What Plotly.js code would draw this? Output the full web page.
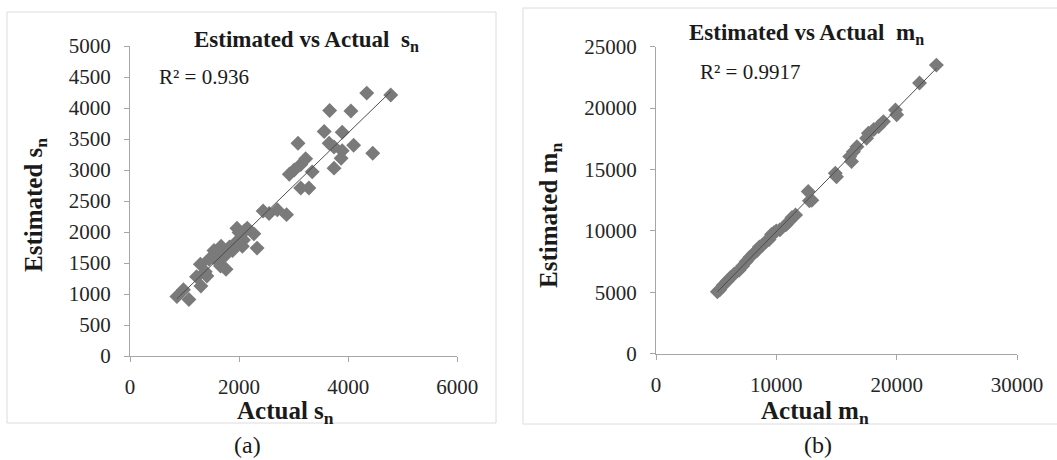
<!DOCTYPE html>
<html>
<head>
<meta charset="utf-8">
<script src="https://cdn.plot.ly/plotly-3.0.1.min.js"></script>
<style>html,body{margin:0;padding:0;background:#fff;}#chart{width:1057px;height:460px;}</style>
</head>
<body>
<div id="chart"></div>
<script>
// ---- Data: panel (a) s_n ----
const sActual = [4780, 4340, 3660, 4050, 3560, 3890, 3080, 3650, 3740, 4100, 4450, 3890, 3870, 3220, 3130, 3010, 2920, 3340, 3740, 3130, 3280,
  2440, 2550, 2700, 2870, 2330, 1960, 2150, 2270, 2080, 1940, 2060, 1830, 1670, 1590, 1290, 1450, 1660, 1730, 1880,
  1220, 1410, 1300, 980, 860, 1080, 1760, 1600, 1820, 1700, 2100, 2000, 1540, 1380];
const sEstimated = [4210, 4240, 3960, 3950, 3620, 3610, 3430, 3430, 3370, 3400, 3270, 3310, 3190, 3180, 3090, 3000, 2930, 2970, 3030, 2710, 2710,
  2340, 2300, 2360, 2280, 1740, 2060, 2060, 1970, 1870, 1830, 1770, 1760, 1770, 1630, 1480, 1560, 1450, 1610, 1700,
  1280, 1290, 1130, 1070, 960, 910, 1400, 1530, 1750, 1680, 2020, 1990, 1700, 1360];
const sR2Label = "R² = 0.936";

// ---- Data: panel (b) m_n ----
const mActual = [23300, 21900, 19900, 20000, 18900, 18500, 18100, 17650, 17500, 16700, 16400, 16100, 16250, 14900, 15000,
  12650, 12750, 12950, 11600, 11300, 11000, 10800, 10300, 10000, 9800, 9600, 9400, 9100, 8800, 8600, 8400, 8100,
  7800, 7500, 7200, 6900, 6500, 6200, 5900, 5600, 5300, 5100];
const mEstimated = [23500, 22050, 19850, 19450, 18900, 18500, 18250, 17950, 17550, 16850, 16450, 16050, 15650, 14700, 14400,
  13200, 12450, 12500, 11300, 11100, 10700, 10500, 10100, 10000, 9850, 9700, 9300, 9100, 8800, 8700, 8400, 8150,
  7850, 7500, 7150, 6800, 6500, 6200, 5900, 5600, 5200, 5050];
const mR2Label = "R² = 0.9917";

// ---- Axis ticks ----
const sXTicks = [0, 2000, 4000, 6000];
const sYTicks = [0, 500, 1000, 1500, 2000, 2500, 3000, 3500, 4000, 4500, 5000];
const mXTicks = [0, 10000, 20000, 30000];
const mYTicks = [0, 5000, 10000, 15000, 20000, 25000];

// linear least-squares trendline computed from the data
function linfit(xs, ys) {
  const n = xs.length;
  let sx = 0, sy = 0, sxx = 0, sxy = 0;
  for (let i = 0; i < n; i++) { sx += xs[i]; sy += ys[i]; sxx += xs[i] * xs[i]; sxy += xs[i] * ys[i]; }
  const b = (n * sxy - sx * sy) / (n * sxx - sx * sx);
  const a = (sy - b * sx) / n;
  const x0 = Math.min(...xs), x1 = Math.max(...xs);
  return { x: [x0, x1], y: [a + b * x0, a + b * x1] };
}
const sFit = linfit(sActual, sEstimated);
const mFit = linfit(mActual, mEstimated);

const W = 1057, H = 460;
const px = x => x / W;
const py = y => 1 - y / H;

const markerStyle = { symbol: 'diamond', size: 11.5, color: '#7a7a7a', line: { width: 0 } };
const lineStyle = { color: '#4d4d4d', width: 1 };

const traces = [
  { x: sActual, y: sEstimated, type: 'scatter', mode: 'markers', marker: markerStyle, xaxis: 'x', yaxis: 'y', hoverinfo: 'x+y' },
  { x: sFit.x, y: sFit.y, type: 'scatter', mode: 'lines', line: lineStyle, xaxis: 'x', yaxis: 'y', hoverinfo: 'skip' },
  { x: mActual, y: mEstimated, type: 'scatter', mode: 'markers', marker: markerStyle, xaxis: 'x2', yaxis: 'y2', hoverinfo: 'x+y' },
  { x: mFit.x, y: mFit.y, type: 'scatter', mode: 'lines', line: lineStyle, xaxis: 'x2', yaxis: 'y2', hoverinfo: 'skip' }
];

const serif = 'Liberation Serif, Times New Roman, serif';
const tickFont = { family: serif, size: 21, color: '#262626' };
const axisBase = {
  showline: true, linecolor: '#a6a6a6', linewidth: 1,
  ticks: 'outside', ticklen: 5, tickcolor: '#a6a6a6', tickwidth: 1,
  showgrid: false, zeroline: false, tickfont: tickFont, fixedrange: true,
  tickmode: 'array'
};

function ann(text, x, y, size, opts) {
  return Object.assign({
    text: text, x: px(x), y: py(y), xref: 'paper', yref: 'paper',
    xanchor: 'center', yanchor: 'middle', showarrow: false,
    font: { family: serif, size: size, color: '#1a1a1a' }
  }, opts || {});
}

const layout = {
  width: W, height: H, autosize: false,
  margin: { l: 0, r: 0, t: 0, b: 0 },
  paper_bgcolor: '#ffffff', plot_bgcolor: 'rgba(0,0,0,0)',
  showlegend: false,
  xaxis: Object.assign({}, axisBase, { domain: [px(130), px(457.3)], range: [0, 6000], anchor: 'y', tickvals: sXTicks, ticktext: sXTicks.map(String), ticklabelstandoff: 7 }),
  yaxis: Object.assign({}, axisBase, { domain: [py(356), py(46)], range: [0, 5000], anchor: 'x', tickvals: sYTicks, ticktext: sYTicks.map(String), ticklabelstandoff: 9 }),
  xaxis2: Object.assign({}, axisBase, { domain: [px(656), px(1017)], range: [0, 30000], anchor: 'y2', tickvals: mXTicks, ticktext: mXTicks.map(String), ticklabelstandoff: 7 }),
  yaxis2: Object.assign({}, axisBase, { domain: [py(353.7), py(46.7)], range: [0, 25000], anchor: 'x2', tickvals: mYTicks, ticktext: mYTicks.map(String), ticklabelstandoff: 9 }),
  shapes: [
    { type: 'rect', xref: 'paper', yref: 'paper', x0: px(7), x1: px(496), y0: py(423), y1: py(12), line: { color: '#dcdcdc', width: 1 }, fillcolor: 'rgba(0,0,0,0)', layer: 'below' },
    { type: 'rect', xref: 'paper', yref: 'paper', x0: px(523), x1: px(1062), y0: py(424), y1: py(8), line: { color: '#dcdcdc', width: 1 }, fillcolor: 'rgba(0,0,0,0)', layer: 'below' }
  ],
  annotations: [
    ann('<b>Estimated vs Actual&nbsp;&nbsp;s<sub>n</sub></b>', 306, 41, 23),
    ann('<b>Estimated vs Actual&nbsp;&nbsp;m<sub>n</sub></b>', 806, 34, 23),
    ann(sR2Label, 157, 77, 21, { xanchor: 'left' }),
    ann(mR2Label, 698, 72, 21, { xanchor: 'left' }),
    ann('<b>Actual s<sub>n</sub></b>', 285, 412, 25),
    ann('<b>Actual m<sub>n</sub></b>', 815, 412, 25),
    ann('<b>Estimated s<sub>n</sub></b>', 35, 205, 25, { textangle: -90 }),
    ann('<b>Estimated m<sub>n</sub></b>', 551, 216, 25, { textangle: -90 }),
    ann('(a)', 247, 445, 24),
    ann('(b)', 818, 445, 24)
  ]
};

Plotly.newPlot('chart', traces, layout, { staticPlot: true, displayModeBar: false });
</script>
</body>
</html>
